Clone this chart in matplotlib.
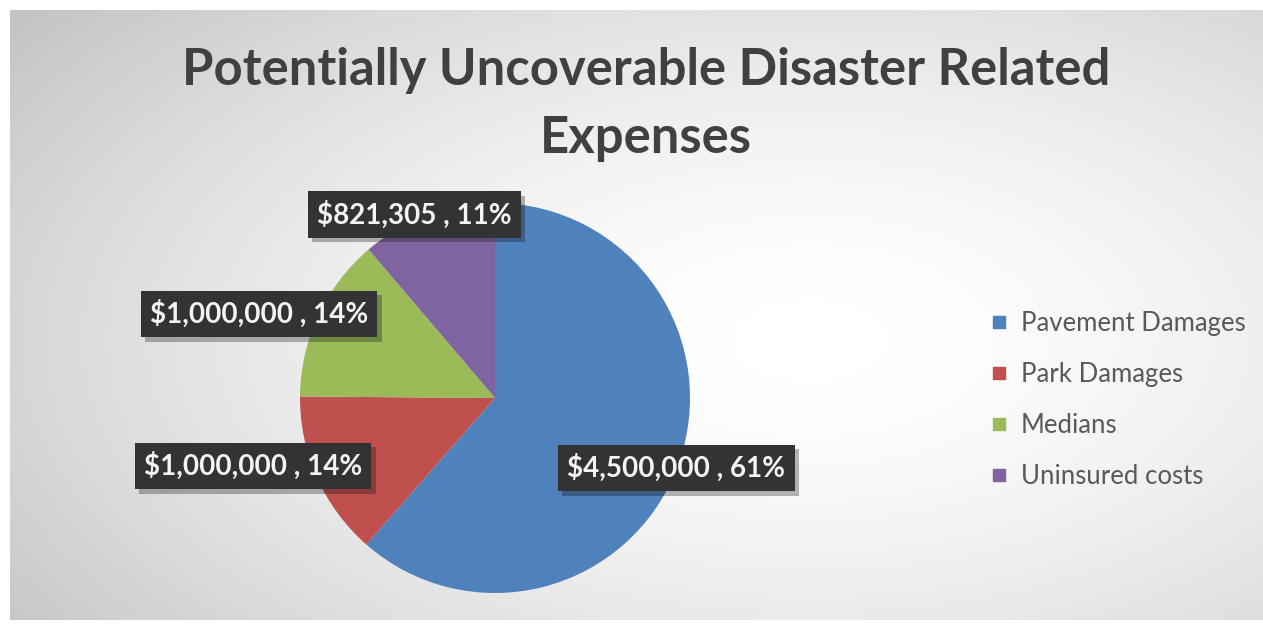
import numpy as np
import matplotlib
matplotlib.use('Agg')
import matplotlib.pyplot as plt
from matplotlib import patheffects as pe
from matplotlib.lines import Line2D

plt.rcParams['font.family'] = ['Lato', 'DejaVu Sans']

categories = ['Pavement Damages', 'Park Damages', 'Medians', 'Uninsured costs']
costs = [4500000, 1000000, 1000000, 821305]
colors = ['#4f81bd', '#c0504d', '#9bbb59', '#8064a2']
# label box centres, in pie-radius units
label_xy = [(0.93, -0.36), (-1.24, -0.35), (-1.21, 0.43), (-0.415, 0.94)]

W, H = 1263, 626
fig = plt.figure(figsize=(W / 100, H / 100), dpi=100)
fig.patch.set_facecolor('white')

# soft radial background of the chart area
bg = fig.add_axes([10 / W, 6 / H, 1253 / W, 610 / H])
bg.set_axis_off()
yy, xx = np.mgrid[0:610, 0:1253]
r = np.sqrt(((xx - 800) / 820.0) ** 2 + ((yy - 330) / 430.0) ** 2)
shade = 1.0 - 0.17 * np.clip(r, 0, 1.3) ** 1.6
bg.imshow(shade, cmap='gray', vmin=0, vmax=1, aspect='auto', interpolation='bilinear')

fig.text(646 / W, 1 - 71 / H, 'Potentially Uncoverable Disaster Related', ha='center', va='center',
         fontsize=36.5, fontweight='bold', color='#404040')
fig.text(646 / W, 1 - 138 / H, 'Expenses', ha='center', va='center',
         fontsize=36.5, fontweight='bold', color='#404040')

cx, cy, R = 495, 626 - 398, 195
ax = fig.add_axes([(cx - R) / W, (cy - R) / H, 2 * R / W, 2 * R / H])
ax.pie(costs, colors=colors, startangle=90, counterclock=False, radius=1,
       wedgeprops=dict(linewidth=0))
ax.set_xlim(-1, 1)
ax.set_ylim(-1, 1)
ax.set_aspect('equal')

total = sum(costs)
for v, (lx, ly) in zip(costs, label_xy):
    t = ax.text(lx, ly, f'${v:,.0f} , {100 * v / total:.0f}%', ha='center', va='center',
                fontsize=20, fontweight='bold', color='#f4f4f4', clip_on=False, zorder=5,
                bbox=dict(boxstyle='square,pad=0.33', fc='#333333', ec='none'))
    t.get_bbox_patch().set_path_effects([pe.SimplePatchShadow(offset=(3, -3), alpha=0.3), pe.Normal()])

handles = [Line2D([], [], marker='s', ls='', color=c, markersize=9) for c in colors]
leg = fig.legend(handles, categories, loc='center left', bbox_to_anchor=(989 / W, 1 - 400 / H),
                 frameon=False, fontsize=18.5, labelspacing=1.0, handletextpad=0.45,
                 handlelength=0.8, borderaxespad=0, borderpad=0)
for txt in leg.get_texts():
    txt.set_color('#595959')

fig.savefig('out.png', dpi=100)
